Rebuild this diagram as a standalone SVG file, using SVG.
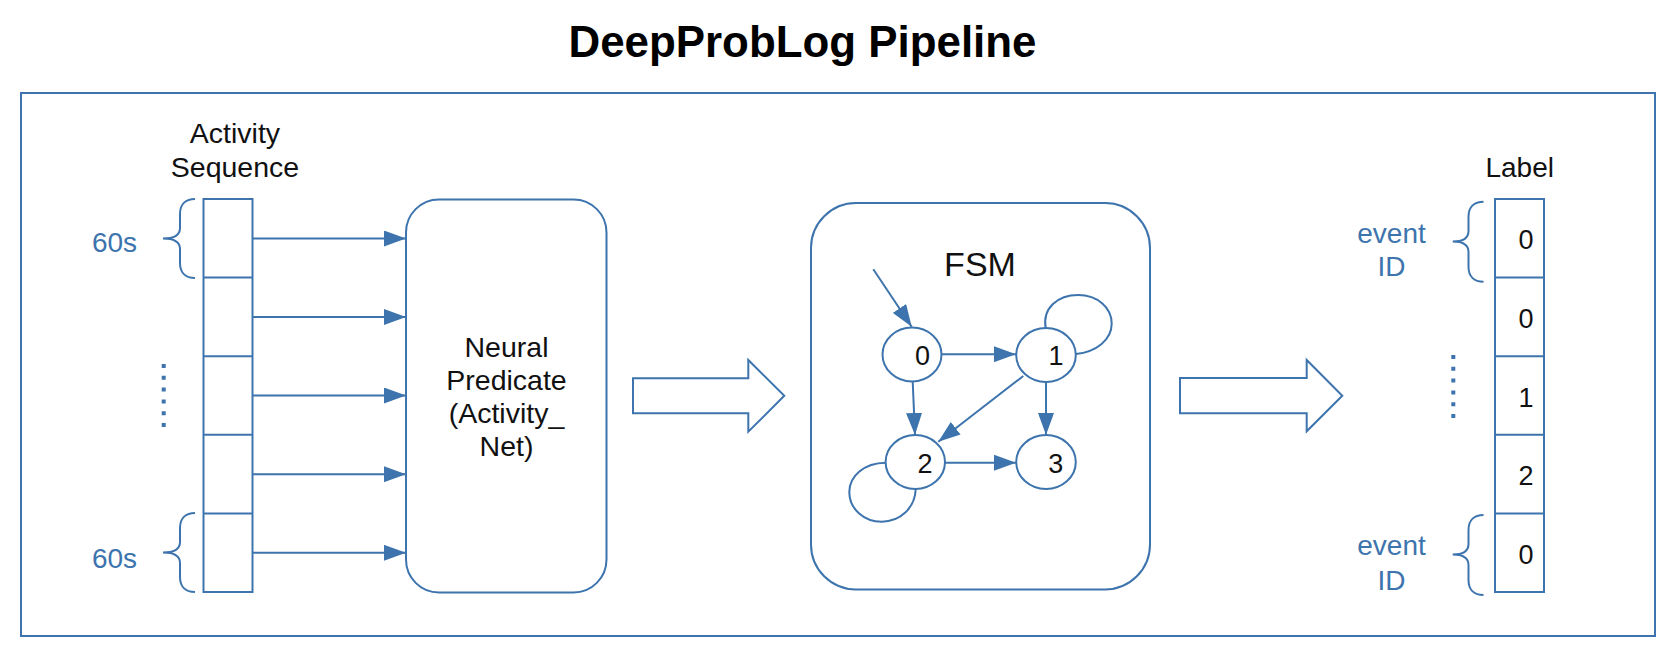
<svg xmlns="http://www.w3.org/2000/svg" width="1680" height="654" viewBox="0 0 1680 654">
<defs>
<style>
.ln{fill:none;stroke:#3d74ad;stroke-width:2}
.box{fill:#fff;stroke:#3d74ad;stroke-width:2}
.t{font-family:"Liberation Sans",Arial,Helvetica,sans-serif;fill:#111;text-anchor:middle}
.b{font-family:"Liberation Sans",Arial,Helvetica,sans-serif;fill:#3d74ad;text-anchor:middle}
.dots{fill:none;stroke:#3d74ad;stroke-width:4;stroke-dasharray:4 7.8}
</style>
<marker id="ah" markerUnits="userSpaceOnUse" markerWidth="22" markerHeight="16" refX="22" refY="8" orient="auto">
<path d="M0,0 L22,8 L0,16 z" fill="#3d74ad"/>
</marker>
</defs>
<rect width="1680" height="654" fill="#fff"/>
<text class="t" x="802.5" y="57" font-size="43.5" font-weight="bold" textLength="468" lengthAdjust="spacingAndGlyphs" style="fill:#000">DeepProbLog Pipeline</text>
<rect id="frame" class="ln" x="21" y="93" width="1634" height="543"/>

<g id="activity-sequence">
<text class="t" x="235" y="143" font-size="28.5">Activity</text>
<text class="t" x="235" y="177" font-size="28.5">Sequence</text>
<rect class="box" x="203.5" y="199" width="49" height="393"/>
<line class="ln" x1="203.5" y1="277.6" x2="252.5" y2="277.6"/>
<line class="ln" x1="203.5" y1="356.2" x2="252.5" y2="356.2"/>
<line class="ln" x1="203.5" y1="434.8" x2="252.5" y2="434.8"/>
<line class="ln" x1="203.5" y1="513.4" x2="252.5" y2="513.4"/>
<path class="ln" d="M195,199 C186,199 180,204 180,214 L180,228 C180,235 175,238.5 163,238.5 C175,238.5 180,242 180,249 L180,263 C180,273 186,278 195,278"/>
<text class="b" x="114.5" y="252" font-size="28">60s</text>
<path class="ln" d="M195,513 C186,513 180,518 180,528 L180,542 C180,549 175,552.5 163,552.5 C175,552.5 180,556 180,563 L180,577 C180,587 186,592 195,592"/>
<text class="b" x="114.5" y="568" font-size="28">60s</text>
<line class="dots" x1="163.7" y1="364" x2="163.7" y2="428"/>
</g>

<g id="neural-predicate">
<rect class="box" x="406" y="199.5" width="200.5" height="393" rx="33" ry="33"/>
<text class="t" x="506.5" y="356.5" font-size="28.5">Neural</text>
<text class="t" x="506.5" y="389.5" font-size="28.5">Predicate</text>
<text class="t" x="506.5" y="422.5" font-size="28.5">(Activity_</text>
<text class="t" x="506.5" y="456" font-size="28.5">Net)</text>
</g>

<g id="fsm">
<rect class="box" x="811" y="203" width="339" height="386.5" rx="45" ry="45"/>
<text class="t" x="980" y="276" font-size="34">FSM</text>
<g id="s0"><ellipse class="box" cx="912" cy="354.5" rx="29.5" ry="27"/><text class="t" x="922.5" y="365" font-size="27">0</text></g>
<g id="s1"><ellipse class="box" cx="1046" cy="355" rx="29.8" ry="27"/><text class="t" x="1056" y="365" font-size="27">1</text></g>
<g id="s2"><ellipse class="box" cx="915.3" cy="462" rx="29.7" ry="27"/><text class="t" x="925" y="472.7" font-size="27">2</text></g>
<g id="s3"><ellipse class="box" cx="1046" cy="462" rx="29.8" ry="27"/><text class="t" x="1055.7" y="472.7" font-size="27">3</text></g>
</g>

<g id="label-column">
<text class="t" x="1519.7" y="177" font-size="28">Label</text>
<rect class="box" x="1495" y="199" width="49" height="393"/>
<line class="ln" x1="1495" y1="277.6" x2="1544" y2="277.6"/>
<line class="ln" x1="1495" y1="356.2" x2="1544" y2="356.2"/>
<line class="ln" x1="1495" y1="434.8" x2="1544" y2="434.8"/>
<line class="ln" x1="1495" y1="513.4" x2="1544" y2="513.4"/>
<text class="t" x="1526" y="249" font-size="27">0</text>
<text class="t" x="1526" y="327.5" font-size="27">0</text>
<text class="t" x="1526" y="406.5" font-size="27">1</text>
<text class="t" x="1526" y="485" font-size="27">2</text>
<text class="t" x="1526" y="563.5" font-size="27">0</text>
<path class="ln" d="M1483.5,201.7 C1474.5,201.7 1468.5,206.7 1468.5,216.7 L1468.5,231 C1468.5,238 1463.5,241.5 1452.7,241.5 C1463.5,241.5 1468.5,245 1468.5,252 L1468.5,266.7 C1468.5,276.7 1474.5,281.7 1483.5,281.7"/>
<text class="b" x="1391.5" y="242.7" font-size="28">event</text>
<text class="b" x="1391.5" y="276" font-size="28">ID</text>
<path class="ln" d="M1483.5,515 C1474.5,515 1468.5,520 1468.5,530 L1468.5,544 C1468.5,551 1463.5,554.5 1452.7,554.5 C1463.5,554.5 1468.5,558 1468.5,565 L1468.5,580 C1468.5,590 1474.5,595 1483.5,595"/>
<text class="b" x="1391.5" y="555" font-size="28">event</text>
<text class="b" x="1391.5" y="589.5" font-size="28">ID</text>
<line class="dots" x1="1453.3" y1="355" x2="1453.3" y2="419"/>
</g>

<g id="connectors">
<line class="ln" x1="252.5" y1="238.5" x2="406" y2="238.5" marker-end="url(#ah)"/>
<line class="ln" x1="252.5" y1="317" x2="406" y2="317" marker-end="url(#ah)"/>
<line class="ln" x1="252.5" y1="395.5" x2="406" y2="395.5" marker-end="url(#ah)"/>
<line class="ln" x1="252.5" y1="474.2" x2="406" y2="474.2" marker-end="url(#ah)"/>
<line class="ln" x1="252.5" y1="552.8" x2="406" y2="552.8" marker-end="url(#ah)"/>
<path class="box" d="M633,378.3 L748.3,378.3 L748.3,360 L784.3,395.8 L748.3,431.7 L748.3,413.3 L633,413.3 z"/>
<path class="box" d="M1180,378 L1306.7,378 L1306.7,360 L1342.3,395.7 L1306.7,431.3 L1306.7,413.3 L1180,413.3 z"/>
<line class="ln" x1="873.3" y1="269.3" x2="911.7" y2="326.7" marker-end="url(#ah)"/>
<line class="ln" x1="941.5" y1="354.2" x2="1016" y2="354.2" marker-end="url(#ah)"/>
<line class="ln" x1="912.7" y1="381.5" x2="915" y2="435" marker-end="url(#ah)"/>
<line class="ln" x1="1023.3" y1="376" x2="938.3" y2="441.7" marker-end="url(#ah)"/>
<line class="ln" x1="1046" y1="382" x2="1046" y2="435" marker-end="url(#ah)"/>
<line class="ln" x1="945" y1="462.7" x2="1016" y2="462.7" marker-end="url(#ah)"/>
<path class="ln" d="M1045.7,328.3 C1042,308 1058,295 1078,295 C1098,295 1111.7,308 1111.7,323.5 C1111.7,340 1096,352 1075.7,354"/>
<path class="ln" d="M885.7,462.7 C864,463 849.3,476 849.3,492 C849.3,509 864,521.7 881.7,521.7 C900,521.7 915,508 915.7,489.3"/>
</g>
</svg>
